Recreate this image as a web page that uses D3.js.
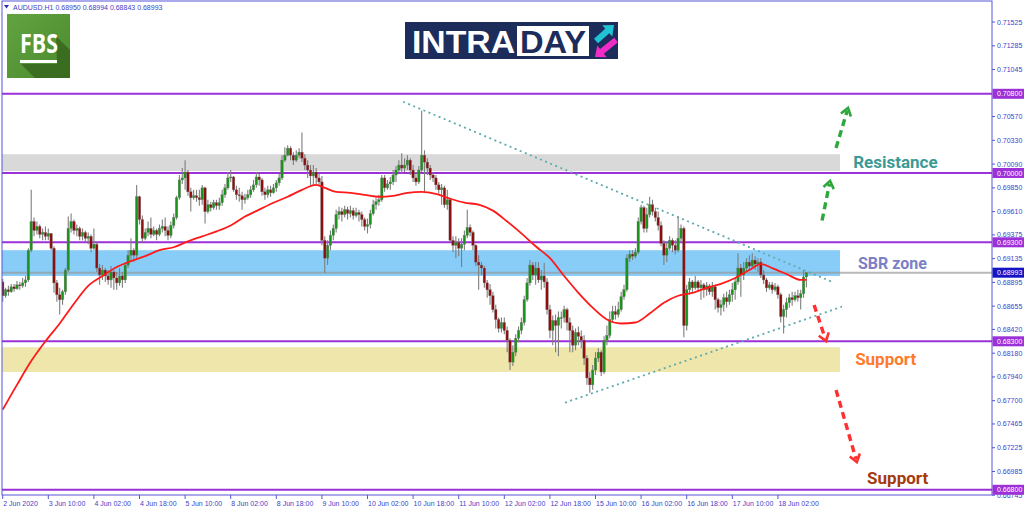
<!DOCTYPE html>
<html>
<head>
<meta charset="utf-8">
<script src="https://cdn.jsdelivr.net/npm/d3@7"></script>
<style>
  html, body { margin: 0; padding: 0; background: #fff; }
  svg { display: block; font-family: "Liberation Sans", Arial, sans-serif; }
</style>
</head>
<body>
<div id="chart"></div>
<script>

/*
    Data
*/

// first bar opens here, every later bar opens at the previous close
var firstOpen = 0.6890;

var closes = [
  0.6876,0.6882,0.6880,0.6885,0.6883,0.6887,0.6886,0.6889,0.6892,0.6922,
  0.6951,0.6942,0.6946,0.6938,0.6940,0.6936,0.6939,0.6924,0.6889,0.6877,
  0.6872,0.6880,0.6902,0.6944,0.6951,0.6942,0.6944,0.6936,0.6940,0.6934,
  0.6936,0.6924,0.6928,0.6904,0.6897,0.6902,0.6896,0.6892,0.6900,0.6894,
  0.6889,0.6896,0.6892,0.6907,0.6917,0.6922,0.6917,0.6976,0.6953,0.6934,
  0.6940,0.6944,0.6938,0.6942,0.6938,0.6944,0.6946,0.6942,0.6937,0.6947,
  0.6955,0.6975,0.6993,0.6995,0.7001,0.6981,0.6975,0.6977,0.6975,0.6973,
  0.6985,0.6961,0.6968,0.6965,0.6970,0.6967,0.6970,0.6978,0.6985,0.6995,
  0.6996,0.6983,0.6978,0.6977,0.6973,0.6975,0.6978,0.6983,0.6988,0.6996,
  0.6993,0.6981,0.6978,0.6983,0.6980,0.6985,0.6990,0.6995,0.7013,0.7018,
  0.7025,0.7018,0.7013,0.7018,0.7021,0.7015,0.7008,0.7003,0.6997,0.7001,
  0.6995,0.6991,0.6932,0.6914,0.6927,0.6937,0.6944,0.6958,0.6961,0.6958,
  0.6963,0.6959,0.6962,0.6957,0.6960,0.6958,0.6953,0.6946,0.6948,0.6959,
  0.6968,0.6971,0.6973,0.6995,0.6985,0.6989,0.6991,0.6998,0.7003,0.7008,
  0.7005,0.7008,0.7013,0.7003,0.6995,0.6991,0.7003,0.7018,0.7011,0.7005,
  0.6998,0.6995,0.6988,0.6983,0.6985,0.6968,0.6973,0.6932,0.6927,0.6930,
  0.6924,0.6928,0.6937,0.6945,0.6940,0.6927,0.6910,0.6907,0.6904,0.6889,
  0.6882,0.6876,0.6862,0.6852,0.6843,0.6849,0.6841,0.6831,0.6809,0.6819,
  0.6833,0.6841,0.6849,0.6872,0.6889,0.6907,0.6897,0.6904,0.6892,0.6896,
  0.6890,0.6862,0.6841,0.6851,0.6846,0.6854,0.6854,0.6862,0.6849,0.6841,
  0.6826,0.6839,0.6835,0.6831,0.6813,0.6793,0.6786,0.6801,0.6813,0.6819,
  0.6799,0.6831,0.6836,0.6852,0.6860,0.6857,0.6862,0.6875,0.6882,0.6914,
  0.6918,0.6916,0.6920,0.6951,0.6965,0.6944,0.6958,0.6968,0.6961,0.6955,
  0.6947,0.6929,0.6917,0.6924,0.6932,0.6927,0.6922,0.6934,0.6944,0.6846,
  0.6882,0.6890,0.6884,0.6890,0.6884,0.6887,0.6882,0.6886,0.6880,0.6885,
  0.6872,0.6864,0.6867,0.6874,0.6870,0.6877,0.6882,0.6890,0.6904,0.6897,
  0.6904,0.6910,0.6906,0.6912,0.6908,0.6910,0.6897,0.6892,0.6884,0.6887,
  0.6882,0.6885,0.6877,0.6855,0.6862,0.6869,0.6874,0.6872,0.6876,0.6874,
  0.6878,0.6895,0.68993
];

var highs = [
  0.6893,0.6884,0.6886,0.6888,0.6888,0.6891,0.6890,0.6894,0.6896,0.6924,
  0.6983,0.6955,0.6951,0.6948,0.6944,0.6946,0.6944,0.6936,0.6926,0.6892,
  0.6884,0.6882,0.6904,0.6956,0.6959,0.6953,0.6948,0.6946,0.6944,0.6942,
  0.6940,0.6938,0.6944,0.6930,0.6908,0.6907,0.6904,0.6902,0.6906,0.6902,
  0.6900,0.6904,0.6900,0.6910,0.6922,0.6934,0.6924,0.6988,0.6977,0.6957,
  0.6944,0.6951,0.6955,0.6946,0.6944,0.6948,0.6953,0.6955,0.6946,0.6951,
  0.6959,0.6977,0.6998,0.7005,0.7013,0.7003,0.6985,0.6983,0.6983,0.6983,
  0.6988,0.6986,0.6973,0.6971,0.6973,0.6973,0.6975,0.6983,0.6989,0.7001,
  0.7003,0.6997,0.6987,0.6985,0.6981,0.6979,0.6983,0.6987,0.6993,0.7001,
  0.6999,0.6995,0.6985,0.6987,0.6987,0.6989,0.6993,0.6999,0.7018,0.7026,
  0.7028,0.7027,0.7021,0.7023,0.7025,0.7041,0.7019,0.7013,0.7008,0.7008,
  0.7005,0.6999,0.6997,0.6936,0.6932,0.6942,0.6948,0.6963,0.6966,0.6965,
  0.6967,0.6966,0.6967,0.6965,0.6965,0.6963,0.6961,0.6955,0.6954,0.6963,
  0.6973,0.6975,0.6978,0.6998,0.6998,0.6993,0.6996,0.7003,0.7007,0.7013,
  0.7020,0.7015,0.7018,0.7015,0.7008,0.7001,0.7007,0.7063,0.7023,0.7015,
  0.7008,0.7001,0.6998,0.6991,0.6989,0.6987,0.6983,0.6975,0.6936,0.6936,
  0.6934,0.6934,0.6942,0.6963,0.6948,0.6942,0.6928,0.6917,0.6910,0.6906,
  0.6892,0.6888,0.6880,0.6867,0.6854,0.6854,0.6854,0.6845,0.6833,0.6826,
  0.6837,0.6845,0.6854,0.6876,0.6894,0.6912,0.6910,0.6910,0.6910,0.6902,
  0.6909,0.6894,0.6867,0.6856,0.6857,0.6860,0.6860,0.6866,0.6864,0.6854,
  0.6846,0.6843,0.6845,0.6841,0.6836,0.6816,0.6799,0.6806,0.6819,0.6823,
  0.6821,0.6835,0.6846,0.6860,0.6866,0.6866,0.6870,0.6880,0.6887,0.6918,
  0.6922,0.6922,0.6924,0.6955,0.6968,0.6967,0.6965,0.6976,0.6973,0.6965,
  0.6961,0.6951,0.6932,0.6930,0.6936,0.6934,0.6932,0.6956,0.6948,0.6946,
  0.6887,0.6894,0.6892,0.6896,0.6892,0.6892,0.6889,0.6890,0.6888,0.6890,
  0.6887,0.6874,0.6872,0.6878,0.6880,0.6882,0.6889,0.6894,0.6919,0.6908,
  0.6910,0.6914,0.6917,0.6919,0.6916,0.6914,0.6914,0.6902,0.6894,0.6890,
  0.6890,0.6889,0.6887,0.6879,0.6867,0.6874,0.6878,0.6880,0.6880,0.6882,
  0.6882,0.6902,0.68994
];

var lows = [
  0.6870,0.6874,0.6876,0.6879,0.6880,0.6882,0.6882,0.6884,0.6885,0.6890,
  0.6920,0.6936,0.6938,0.6934,0.6932,0.6932,0.6932,0.6922,0.6879,0.6870,
  0.6857,0.6867,0.6877,0.6900,0.6940,0.6938,0.6936,0.6932,0.6932,0.6930,
  0.6928,0.6920,0.6922,0.6900,0.6887,0.6892,0.6890,0.6887,0.6884,0.6882,
  0.6882,0.6886,0.6884,0.6889,0.6904,0.6910,0.6910,0.6914,0.6948,0.6930,
  0.6932,0.6936,0.6934,0.6936,0.6932,0.6936,0.6940,0.6936,0.6932,0.6934,
  0.6944,0.6953,0.6973,0.6989,0.6983,0.6977,0.6961,0.6973,0.6971,0.6967,
  0.6968,0.6949,0.6959,0.6961,0.6963,0.6963,0.6963,0.6967,0.6975,0.6983,
  0.6991,0.6981,0.6973,0.6971,0.6963,0.6969,0.6973,0.6975,0.6981,0.6985,
  0.6987,0.6977,0.6973,0.6975,0.6976,0.6979,0.6981,0.6987,0.6993,0.7011,
  0.7017,0.7013,0.7008,0.7011,0.7015,0.7011,0.7003,0.6995,0.6988,0.6988,
  0.6989,0.6987,0.6927,0.6899,0.6907,0.6922,0.6932,0.6940,0.6953,0.6951,
  0.6955,0.6953,0.6955,0.6953,0.6955,0.6951,0.6946,0.6942,0.6939,0.6944,
  0.6957,0.6963,0.6967,0.6971,0.6981,0.6983,0.6983,0.6988,0.6991,0.7001,
  0.6999,0.7001,0.7003,0.6998,0.6991,0.6987,0.6989,0.7001,0.6981,0.6998,
  0.6993,0.6991,0.6983,0.6979,0.6968,0.6965,0.6963,0.6930,0.6920,0.6914,
  0.6916,0.6905,0.6922,0.6934,0.6936,0.6922,0.6906,0.6882,0.6897,0.6884,
  0.6874,0.6867,0.6859,0.6843,0.6839,0.6839,0.6837,0.6819,0.6801,0.6805,
  0.6815,0.6829,0.6837,0.6846,0.6870,0.6886,0.6892,0.6887,0.6889,0.6882,
  0.6884,0.6857,0.6833,0.6826,0.6819,0.6815,0.6843,0.6849,0.6841,0.6819,
  0.6819,0.6821,0.6826,0.6823,0.6806,0.6786,0.6778,0.6781,0.6796,0.6809,
  0.6795,0.6797,0.6826,0.6833,0.6849,0.6852,0.6854,0.6860,0.6872,0.6880,
  0.6910,0.6912,0.6914,0.6918,0.6948,0.6940,0.6940,0.6955,0.6957,0.6951,
  0.6942,0.6926,0.6907,0.6910,0.6922,0.6920,0.6918,0.6920,0.6930,0.6834,
  0.6841,0.6877,0.6880,0.6882,0.6880,0.6872,0.6874,0.6876,0.6877,0.6875,
  0.6862,0.6859,0.6856,0.6860,0.6864,0.6867,0.6870,0.6872,0.6887,0.6875,
  0.6892,0.6900,0.6902,0.6904,0.6902,0.6900,0.6894,0.6888,0.6880,0.6882,
  0.6878,0.6880,0.6873,0.6849,0.6838,0.6854,0.6864,0.6866,0.6870,0.6870,
  0.6862,0.6874,0.68843
];

// red moving average, sampled at these bars
var maIndex = [0,5,10,15,20,25,30,35,40,45,50,55,60,65,70,75,80,85,90,95,100,105,110,
  113,117,122,127,132,137,142,147,152,157,162,167,172,177,182,187,192,197,202,207,212,
  217,222,227,232,237,242,247,252,257,262,266,270,275,280,282];
var maValues = [0.6761,0.6786,0.6810,0.6830,0.6848,0.6868,0.6886,0.6896,0.6905,0.6911,
  0.6916,0.6922,0.6925,0.6931,0.6936,0.6941,0.6947,0.6956,0.6963,0.6970,0.6976,0.6983,
  0.6988,0.6985,0.6981,0.6980,0.6978,0.6976,0.6977,0.6980,0.6981,0.6979,0.6974,0.6970,
  0.6968,0.6962,0.6951,0.6939,0.6926,0.6914,0.6896,0.6879,0.6864,0.6852,0.6848,0.6849,
  0.6858,0.6869,0.6876,0.6879,0.6884,0.6888,0.6894,0.6902,0.6908,0.6904,0.6898,0.6892,
  0.6892];

// time labels, one every 16 bars
var timeLabels = ["2 Jun 2020","3 Jun 10:00","4 Jun 02:00","4 Jun 18:00","5 Jun 10:00",
  "8 Jun 02:00","8 Jun 18:00","9 Jun 10:00","10 Jun 02:00","10 Jun 18:00","11 Jun 10:00",
  "12 Jun 02:00","12 Jun 18:00","15 Jun 10:00","16 Jun 02:00","16 Jun 18:00",
  "17 Jun 10:00","18 Jun 02:00"];
var labelStep = 16;

var priceTicks = [0.71525,0.71285,0.71045,0.70570,0.70330,0.70090,0.69850,0.69610,
  0.69375,0.69135,0.68895,0.68655,0.68420,0.68180,0.67940,0.67700,0.67465,0.67225,
  0.66985,0.66745];

var levels = [0.70800, 0.70000, 0.69300, 0.68300, 0.66800];
var lastPrice = 0.68993;

// shaded zones: resistance, SBR, support
var zoneTop = [0.7019, 0.6922, 0.6824];
var zoneBottom = [0.7002, 0.6896, 0.6799];

/*
    Drawing
*/

var W = 1024, H = 511;
var plot = {left: 2, right: 992, top: 1, bottom: 495};

var x = d3.scaleLinear().domain([0, closes.length - 1]).range([2.7, 806.4]);
var y = d3.scaleLinear().domain([0.668, 0.708]).range([489.8, 93.8]);

var axisColor = "#5656d6", textColor = "#3f3fc8", purple = "#9b31d6";

var svg = d3.select("#chart").append("svg")
  .attr("width", W).attr("height", H);

svg.append("defs").append("clipPath").attr("id", "plotclip")
  .append("rect")
    .attr("x", plot.left).attr("y", plot.top)
    .attr("width", plot.right - plot.left).attr("height", plot.bottom - plot.top);

var g = svg.append("g").attr("clip-path", "url(#plotclip)");

// zones behind everything
var zoneFill = ["#d9d9d9", "#87cdf8", "#eee6aa"];
g.selectAll("rect.zone")
  .data(zoneTop)
  .enter().append("rect")
    .attr("class", "zone")
    .attr("x", x(-2))
    .attr("width", x(293.8) - x(-2))
    .attr("y", function(d) { return y(d); })
    .attr("height", function(d, i) { return y(zoneBottom[i]) - y(d); })
    .attr("fill", function(d, i) { return zoneFill[i]; });

// key levels
g.selectAll("line.level")
  .data(levels)
  .enter().append("line")
    .attr("x1", plot.left).attr("x2", plot.right)
    .attr("y1", function(d) { return y(d); })
    .attr("y2", function(d) { return y(d); })
    .attr("stroke", purple).attr("stroke-width", 2);

// current price line
g.append("line")
  .attr("x1", plot.left).attr("x2", plot.right)
  .attr("y1", y(lastPrice)).attr("y2", y(lastPrice))
  .attr("stroke", "#9a9a9a").attr("stroke-opacity", 0.7).attr("stroke-width", 2);

// dotted triangle lines
var trendLines = [
  [[140.5, 0.7072], [291, 0.6890]],
  [[197.3, 0.6768], [294.5, 0.6865]]
];
g.selectAll("line.trend")
  .data(trendLines)
  .enter().append("line")
    .attr("x1", function(d) { return x(d[0][0]); })
    .attr("y1", function(d) { return y(d[0][1]); })
    .attr("x2", function(d) { return x(d[1][0]); })
    .attr("y2", function(d) { return y(d[1][1]); })
    .attr("stroke", "#5fabac").attr("stroke-width", 1.8)
    .attr("stroke-dasharray", "2,3.5");

// candles
var bars = closes.map(function(c, i) {
  var o = i === 0 ? firstOpen : closes[i - 1];
  return {i: i, open: o, close: c, high: highs[i], low: lows[i]};
});

var candle = g.append("g").attr("class", "candles")
  .selectAll("g")
  .data(bars)
  .enter().append("g");

candle.append("line")
  .attr("x1", function(d) { return x(d.i); })
  .attr("x2", function(d) { return x(d.i); })
  .attr("y1", function(d) { return y(Math.max(d.high, d.open, d.close)); })
  .attr("y2", function(d) { return y(Math.min(d.low, d.open, d.close)); })
  .attr("stroke", "#7e7e7e").attr("stroke-width", 1.1);

candle.append("rect")
  .attr("x", function(d) { return x(d.i) - 1.25; })
  .attr("width", 2.5)
  .attr("y", function(d) { return y(Math.max(d.open, d.close)); })
  .attr("height", function(d) { return Math.max(1, Math.abs(y(d.open) - y(d.close))); })
  .attr("fill", function(d) { return d.close >= d.open ? "#1a931a" : "#8c0e0e"; })
  .attr("stroke", "#767676").attr("stroke-width", 0.35);

// moving average
var maLine = d3.line()
  .x(function(d) { return x(d[0]); })
  .y(function(d) { return y(d[1]); })
  .curve(d3.curveMonotoneX);

g.append("path")
  .datum(maIndex.map(function(d, i) { return [d, maValues[i]]; }))
  .attr("d", maLine)
  .attr("fill", "none")
  .attr("stroke", "#ff1a1a").attr("stroke-width", 1.8);

// dashed direction arrows
function arrow(a, b, color) {
  var x1 = x(a[0]), y1 = y(a[1]), x2 = x(b[0]), y2 = y(b[1]);
  var ang = Math.atan2(y2 - y1, x2 - x1), len = 9, spread = 0.62;
  g.append("line")
    .attr("x1", x1).attr("y1", y1)
    .attr("x2", x2 - 3 * Math.cos(ang)).attr("y2", y2 - 3 * Math.sin(ang))
    .attr("stroke", color).attr("stroke-width", 3.4)
    .attr("stroke-dasharray", "7,4.5");
  var head = [
    [x2 - len * Math.cos(ang - spread), y2 - len * Math.sin(ang - spread)],
    [x2, y2],
    [x2 - len * Math.cos(ang + spread), y2 - len * Math.sin(ang + spread)]
  ];
  g.append("path")
    .attr("d", d3.line()(head))
    .attr("fill", "none").attr("stroke", color)
    .attr("stroke-width", 2.6).attr("stroke-linejoin", "miter");
}
arrow([287.5, 0.6952], [290.3, 0.6992], "#2ea83c");
arrow([292.4, 0.70253], [296.6, 0.70657], "#2ea83c");
arrow([284.7, 0.68667], [288.9, 0.68303], "#ff3030");
arrow([292.4, 0.67808], [299.7, 0.67081], "#ff3030");

// zone captions
var notes = [
  {text: "Resistance", i: 298.4, p: 0.70051, color: "#3c9a96", size: 17},
  {text: "SBR zone", i: 300.1, p: 0.6903, color: "#7b80c6", size: 16},
  {text: "Support", i: 299.1, p: 0.68061, color: "#ff7a2c", size: 17},
  {text: "Support", i: 303.3, p: 0.66859, color: "#a43a0e", size: 17}
];
g.selectAll("text.note")
  .data(notes)
  .enter().append("text")
    .attr("x", function(d) { return x(d.i); })
    .attr("y", function(d) { return y(d.p); })
    .attr("fill", function(d) { return d.color; })
    .style("font-family", "Roboto, 'Open Sans', sans-serif")
    .style("font-weight", "bold")
    .style("font-size", function(d) { return d.size + "px"; })
    .text(function(d) { return d.text; });

// frame
svg.append("rect")
  .attr("x", plot.left).attr("y", plot.top)
  .attr("width", plot.right - plot.left).attr("height", plot.bottom - plot.top)
  .attr("fill", "none").attr("stroke", axisColor).attr("stroke-width", 1);

// right price axis
var yAxis = svg.append("g");
yAxis.selectAll("line")
  .data(priceTicks)
  .enter().append("line")
    .attr("x1", plot.right).attr("x2", plot.right + 3)
    .attr("y1", function(d) { return y(d); })
    .attr("y2", function(d) { return y(d); })
    .attr("stroke", axisColor);
yAxis.selectAll("text")
  .data(priceTicks)
  .enter().append("text")
    .attr("x", plot.right + 5)
    .attr("y", function(d) { return y(d) + 2.5; })
    .attr("fill", textColor)
    .style("font-size", "7px")
    .text(function(d) { return d3.format(".5f")(d); });

// price tags
var tags = levels.map(function(d) { return {p: d, color: purple}; })
  .concat([{p: lastPrice, color: "#1414c2"}]);
var tag = svg.append("g").selectAll("g")
  .data(tags)
  .enter().append("g");
tag.append("rect")
  .attr("x", plot.right + 0.5).attr("width", W - plot.right)
  .attr("y", function(d) { return y(d.p) - 5; }).attr("height", 10)
  .attr("fill", function(d) { return d.color; });
tag.append("text")
  .attr("x", plot.right + 5)
  .attr("y", function(d) { return y(d.p) + 2.5; })
  .attr("fill", "#fff")
  .style("font-size", "7px")
  .text(function(d) { return d3.format(".5f")(d.p); });

// bottom time axis
var xAxis = svg.append("g");
xAxis.selectAll("line")
  .data(timeLabels)
  .enter().append("line")
    .attr("x1", function(d, i) { return x(i * labelStep); })
    .attr("x2", function(d, i) { return x(i * labelStep); })
    .attr("y1", plot.bottom).attr("y2", plot.bottom + 4)
    .attr("stroke", axisColor);
xAxis.selectAll("text")
  .data(timeLabels)
  .enter().append("text")
    .attr("x", function(d, i) { return x(i * labelStep) + 0.5; })
    .attr("y", plot.bottom + 10.5)
    .attr("fill", textColor)
    .style("font-size", "7px")
    .text(function(d) { return d; });

// header
svg.append("path").attr("d", "M4,5 L9,5 L6.5,8.5 Z").attr("fill", "#2b2bb8");
svg.append("text")
  .attr("x", 13).attr("y", 9.5)
  .attr("fill", textColor)
  .style("font-size", "7px")
  .text("AUDUSD.H1  0.68950 0.68994 0.68843 0.68993");

/*
    Logos
*/

// FBS badge
var fbs = svg.append("g");
var grad = svg.select("defs").append("linearGradient").attr("id", "fbsgrad")
  .attr("x1", 0).attr("y1", 0).attr("x2", 1).attr("y2", 1);
grad.append("stop").attr("offset", 0).attr("stop-color", "#62a341");
grad.append("stop").attr("offset", 1).attr("stop-color", "#4a8a2d");
fbs.append("rect").attr("x", 7).attr("y", 14).attr("width", 63).attr("height", 64)
  .attr("fill", "url(#fbsgrad)");
fbs.append("path")
  .attr("d", "M56,36 L70,50 L70,78 L35,78 L21,64 L57,64 Z")
  .attr("fill", "#34621c").attr("opacity", 0.75);
fbs.append("text")
  .attr("x", 20).attr("y", 53)
  .attr("textLength", 38).attr("lengthAdjust", "spacingAndGlyphs")
  .attr("fill", "#fff")
  .style("font-family", "'Open Sans', Roboto, sans-serif")
  .style("font-weight", "bold").style("font-size", "27px")
  .text("FBS");
fbs.append("rect").attr("x", 20).attr("y", 60).attr("width", 37).attr("height", 3)
  .attr("fill", "#fff");

// INTRADAY banner
var intra = svg.append("g");
intra.append("rect").attr("x", 405).attr("y", 22).attr("width", 213).attr("height", 37)
  .attr("fill", "#1c2c5b");
intra.append("text")
  .attr("x", 412).attr("y", 52.5)
  .attr("textLength", 103).attr("lengthAdjust", "spacingAndGlyphs")
  .attr("fill", "#fff")
  .style("font-weight", "bold").style("font-size", "31px")
  .text("INTRA");
intra.append("rect").attr("x", 517).attr("y", 26).attr("width", 72).attr("height", 30)
  .attr("fill", "#fff");
intra.append("text")
  .attr("x", 520).attr("y", 52.5)
  .attr("textLength", 66).attr("lengthAdjust", "spacingAndGlyphs")
  .attr("fill", "#1c2c5b")
  .style("font-weight", "bold").style("font-size", "31px")
  .text("DAY");

function blockArrow(tail, tip, color) {
  var ang = Math.atan2(tip[1] - tail[1], tip[0] - tail[0]);
  var nx = -Math.sin(ang), ny = Math.cos(ang);
  var len = Math.hypot(tip[0] - tail[0], tip[1] - tail[1]), headLen = 9;
  var bx = tail[0] + (len - headLen) * Math.cos(ang), by = tail[1] + (len - headLen) * Math.sin(ang);
  var w = 3, hw = 7.5;
  var pts = [
    [tail[0] + nx * w, tail[1] + ny * w],
    [bx + nx * w, by + ny * w],
    [bx + nx * hw, by + ny * hw],
    tip,
    [bx - nx * hw, by - ny * hw],
    [bx - nx * w, by - ny * w],
    [tail[0] - nx * w, tail[1] - ny * w]
  ];
  intra.append("path").attr("d", d3.line()(pts) + "Z").attr("fill", color);
}
blockArrow([596, 41], [614, 25], "#1fc3d3");
blockArrow([616, 40], [595, 57], "#f02bc6");

</script>
</body>
</html>
